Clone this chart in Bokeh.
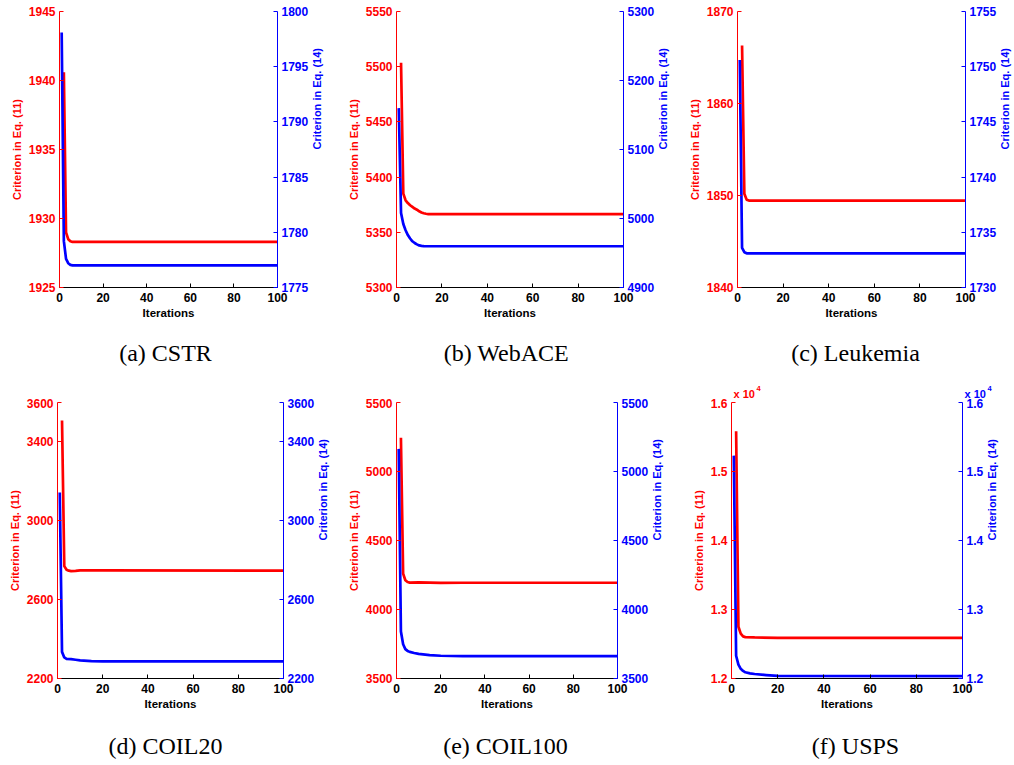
import math
from bokeh.plotting import figure
from bokeh.models import Range1d, LinearAxis, FixedTicker, Label
from bokeh.layouts import row, column
from bokeh.embed import file_html
from bokeh.resources import INLINE

RED = "#FF0000"
BLUE = "#0000FF"
SANS = "Liberation Sans"
SERIF = "Liberation Serif"

iter_ticks = [0, 20, 40, 60, 80, 100]

# (a) CSTR
cstr_red_x = [2, 3, 4, 5, 6, 100]
cstr_red_y = [1940.6, 1929.0, 1928.5, 1928.35, 1928.3, 1928.3]
cstr_blue_x = [1, 2, 3, 4, 5, 6, 100]
cstr_blue_y = [1798.1, 1779.2, 1777.6, 1777.2, 1777.05, 1777.0, 1777.0]
cstr_red_ticks = [1925, 1930, 1935, 1940, 1945]
cstr_blue_ticks = [1775, 1780, 1785, 1790, 1795, 1800]

# (b) WebACE
webace_red_x = [2, 3, 4, 5, 6, 7, 8, 9, 10, 11, 12, 13, 14, 100]
webace_red_y = [5503.5, 5385, 5379, 5376.5, 5374.5, 5373, 5371.5, 5370.5, 5369,
                5368, 5367.3, 5366.8, 5366.5, 5366.5]
webace_blue_x = [1, 2, 3, 4, 5, 6, 7, 8, 9, 10, 11, 12, 13, 100]
webace_blue_y = [5160, 5008, 4992, 4983, 4976, 4971, 4967, 4964.5, 4962.5, 4961,
                 4960.3, 4960, 4959.8, 4959.8]
webace_red_ticks = [5300, 5350, 5400, 5450, 5500, 5550]
webace_blue_ticks = [4900, 5000, 5100, 5200, 5300]

# (c) Leukemia
leuk_red_x = [2, 3, 4, 5, 100]
leuk_red_y = [1866.3, 1850.2, 1849.55, 1849.45, 1849.45]
leuk_blue_x = [1, 2, 3, 4, 100]
leuk_blue_y = [1750.6, 1733.6, 1733.2, 1733.1, 1733.1]
leuk_red_ticks = [1840, 1850, 1860, 1870]
leuk_blue_ticks = [1730, 1735, 1740, 1745, 1750, 1755]

# (d) COIL20
coil20_red_x = [2, 3, 4, 5, 6, 8, 10, 15, 20, 100]
coil20_red_y = [3509, 2770, 2752, 2747, 2745, 2746, 2748, 2749, 2748, 2747]
coil20_blue_x = [1, 2, 3, 4, 6, 8, 10, 15, 20, 100]
coil20_blue_y = [3143, 2335, 2307, 2300, 2298, 2295, 2292, 2288, 2287, 2287]
coil20_red_ticks = [2200, 2600, 3000, 3400, 3600]
coil20_blue_ticks = [2200, 2600, 3000, 3400, 3600]

# (e) COIL100
coil100_red_x = [2, 3, 4, 5, 6, 10, 20, 30, 100]
coil100_red_y = [5244, 4260, 4212, 4199, 4195, 4196, 4193, 4194, 4194]
coil100_blue_x = [1, 2, 3, 4, 5, 6, 8, 10, 15, 20, 30, 100]
coil100_blue_y = [5164, 3840, 3748, 3713, 3700, 3693, 3685, 3678, 3670, 3665, 3662, 3662]
coil100_red_ticks = [3500, 4000, 4500, 5000, 5500]
coil100_blue_ticks = [3500, 4000, 4500, 5000, 5500]

# (f) USPS
usps_red_x = [2, 3, 4, 5, 6, 10, 20, 100]
usps_red_y = [15584, 12750, 12650, 12610, 12600, 12595, 12590, 12590]
usps_blue_x = [1, 2, 3, 4, 5, 6, 8, 10, 15, 20, 100]
usps_blue_y = [15230, 12330, 12200, 12140, 12110, 12090, 12075, 12065, 12050, 12038, 12035]
usps_ticks = [12000, 13000, 14000, 15000, 16000]
usps_tick_labels = ["1.2", "1.3", "1.4", "1.5", "1.6"]

captions_row1 = ["(a) CSTR", "(b) WebACE", "(c) Leukemia"]
captions_row2 = ["(d) COIL20", "(e) COIL100", "(f) USPS"]


def style_axis(ax, color):
    ax.axis_line_color = color
    ax.axis_line_width = 1
    ax.major_tick_line_color = color
    ax.minor_tick_line_color = None
    ax.major_tick_in = 4
    ax.major_tick_out = 0
    ax.major_label_text_color = color
    ax.major_label_text_font = SANS
    ax.major_label_text_font_style = "bold"
    ax.major_label_text_font_size = "12px"
    ax.major_label_standoff = 4
    ax.axis_label_text_color = color
    ax.axis_label_text_font = SANS
    ax.axis_label_text_font_style = "bold"
    ax.axis_label_text_font_size = "11px"
    ax.axis_label_standoff = 6


def panel(rx, ry, bx, by, rticks, bticks, fw, bl, br, bt, bb, overrides=None):
    fh = 276
    p = figure(frame_width=fw, frame_height=fh, min_border_left=bl, min_border_right=br,
               min_border_top=bt, min_border_bottom=bb,
               x_range=Range1d(0, 100), y_range=Range1d(rticks[0], rticks[-1]),
               output_backend="svg", toolbar_location=None)
    p.extra_y_ranges = {"blue": Range1d(bticks[0], bticks[-1])}
    p.outline_line_color = None
    p.grid.visible = False
    p.background_fill_color = "white"
    p.border_fill_color = "white"

    xa = p.xaxis[0]
    style_axis(xa, "black")
    xa.ticker = FixedTicker(ticks=iter_ticks)
    xa.major_label_standoff = 5
    xa.axis_label = "Iterations"
    xa.axis_label_text_font_size = "11.5px"
    xa.axis_label_standoff = 2

    ya = p.yaxis[0]
    style_axis(ya, RED)
    ya.ticker = FixedTicker(ticks=rticks)
    ya.axis_label = "Criterion in Eq. (11)"
    ya.axis_label_standoff = 3

    yb = LinearAxis(y_range_name="blue", ticker=FixedTicker(ticks=bticks))
    style_axis(yb, BLUE)
    yb.axis_label = "Criterion in Eq. (14)"
    try:
        yb.axis_label_orientation = math.pi / 2
    except Exception:
        pass
    p.add_layout(yb, "right")

    if overrides is not None:
        ya.major_label_overrides = overrides
        yb.major_label_overrides = overrides

    p.line(rx, ry, line_color=RED, line_width=2.7, line_join="round")
    p.line(bx, by, line_color=BLUE, line_width=2.7, line_join="round", y_range_name="blue")
    return p


def strip(h):
    s = figure(width=1014, height=h, x_range=Range1d(0, 1014), y_range=Range1d(h, 0),
               x_axis_type=None, y_axis_type=None, min_border=0,
               min_border_left=0, min_border_right=0, min_border_top=0, min_border_bottom=0,
               output_backend="svg", toolbar_location=None)
    s.outline_line_color = None
    s.grid.visible = False
    s.background_fill_color = "white"
    s.border_fill_color = "white"
    return s


def add_text(s, x, y, text, color="black", size="24px", font=SERIF, style="normal",
             align="center", baseline="middle"):
    s.add_layout(Label(x=x, y=y, text=text, text_color=color, text_font=font,
                       text_font_size=size, text_font_style=style, text_align=align,
                       text_baseline=baseline))


usps_over = {t: s for t, s in zip(usps_ticks, usps_tick_labels)}

pa = panel(cstr_red_x, cstr_red_y, cstr_blue_x, cstr_blue_y, cstr_red_ticks, cstr_blue_ticks,
           218, 59, 61, 11, 43)
pb = panel(webace_red_x, webace_red_y, webace_blue_x, webace_blue_y, webace_red_ticks,
           webace_blue_ticks, 227, 58, 53, 11, 43)
pc = panel(leuk_red_x, leuk_red_y, leuk_blue_x, leuk_blue_y, leuk_red_ticks, leuk_blue_ticks,
           228, 59, 51, 11, 43)
pd = panel(coil20_red_x, coil20_red_y, coil20_blue_x, coil20_blue_y, coil20_red_ticks,
           coil20_blue_ticks, 226, 57, 55, 4, 42)
pe = panel(coil100_red_x, coil100_red_y, coil100_blue_x, coil100_blue_y, coil100_red_ticks,
           coil100_blue_ticks, 221, 58, 59, 4, 42)
pf = panel(usps_red_x, usps_red_y, usps_blue_x, usps_blue_y, usps_ticks, usps_ticks,
           231, 55, 52, 4, 42, overrides=usps_over)

# caption strip between rows (also carries the x10^4 exponent of panel f)
s1 = strip(68)
for cx, cap in zip([165, 506, 855], captions_row1):
    add_text(s1, cx, 22, cap)
add_text(s1, 733, 63, "x 10", RED, "11px", SANS, "bold", align="left")
add_text(s1, 756, 58, "4", RED, "7.5px", SANS, "bold", align="left")
add_text(s1, 964, 63, "x 10", BLUE, "11px", SANS, "bold", align="left")
add_text(s1, 987, 58, "4", BLUE, "7.5px", SANS, "bold", align="left")

s2 = strip(45)
for cx, cap in zip([165, 505, 855], captions_row2):
    add_text(s2, cx, 25, cap)

layout = column(row(pa, pb, pc, spacing=0), s1, row(pd, pe, pf, spacing=0), s2, spacing=0)

with open("out.html", "w") as f:
    f.write(file_html(layout, INLINE))
